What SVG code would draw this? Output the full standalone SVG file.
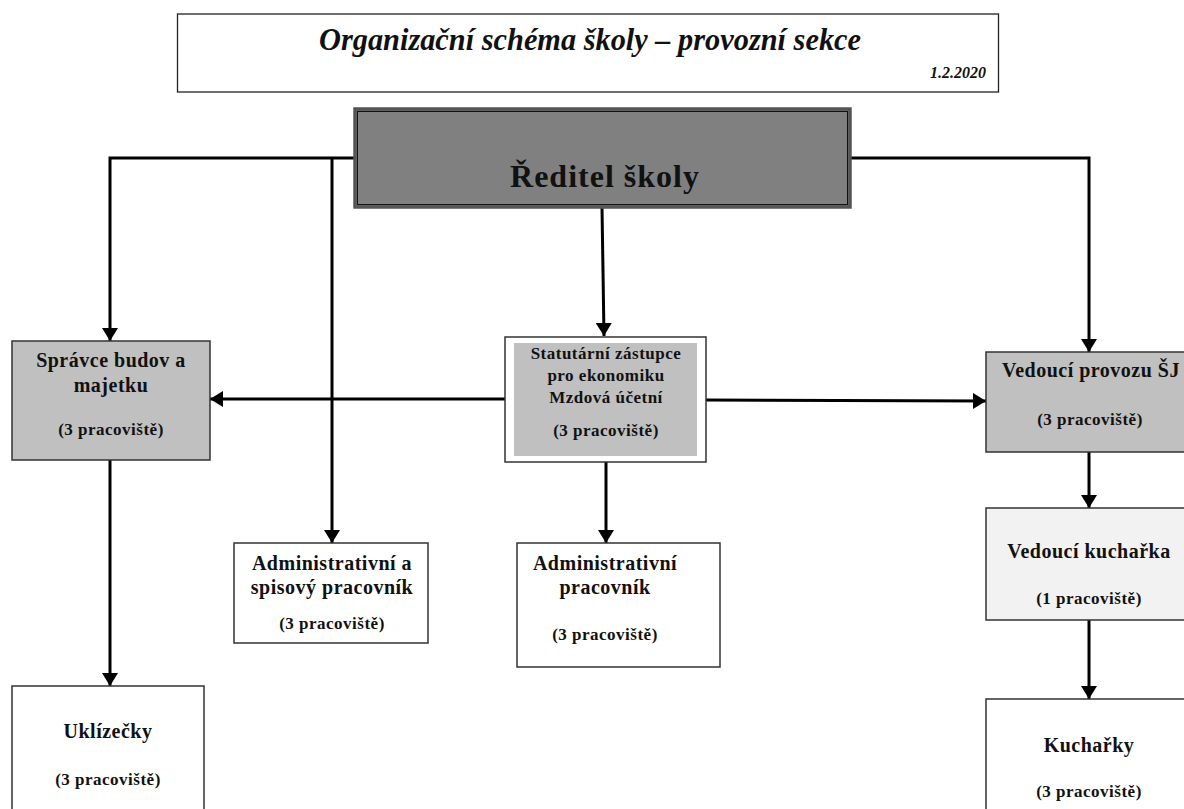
<svg xmlns="http://www.w3.org/2000/svg" width="1184" height="809" viewBox="0 0 1184 809">
<style>
text{font-family:"Liberation Serif","Times New Roman",serif;font-weight:bold;fill:#111;text-anchor:middle}
.t{font-size:20px;letter-spacing:0.5px}
.s{font-size:17px;letter-spacing:0.5px}
.box{stroke:#333;stroke-width:1.5}
.conn{stroke:#000;stroke-width:3;fill:none}
</style>
<defs>
<marker id="ah" markerUnits="userSpaceOnUse" markerWidth="14" markerHeight="16" refX="13" refY="8" orient="auto" viewBox="0 0 14 16">
<path d="M0,0 L13,8 L0,16 z" fill="#000"/>
</marker>
</defs>
<rect width="1184" height="809" fill="#fff"/>
<g id="title">
<rect x="177.5" y="14" width="821" height="78" fill="#fff" stroke="#222" stroke-width="1.3"/>
<text x="590" y="50" style="font-size:31px;font-style:italic" textLength="542" lengthAdjust="spacingAndGlyphs">Organizační schéma školy – provozní sekce</text>
<text x="986" y="78" style="font-size:16px;font-style:italic;text-anchor:end">1.2.2020</text>
</g>
<g id="connectors">
<polyline class="conn" points="354,158 110,158 110,341" marker-end="url(#ah)"/>
<polyline class="conn" points="332,158 332,543" marker-end="url(#ah)"/>
<polyline class="conn" points="851,158 1089,158 1089,352" marker-end="url(#ah)"/>
<line class="conn" x1="602" y1="207" x2="604" y2="336" marker-end="url(#ah)"/>
<line class="conn" x1="505" y1="399" x2="210" y2="399" marker-end="url(#ah)"/>
<line class="conn" x1="706" y1="400" x2="986" y2="401" marker-end="url(#ah)"/>
<line class="conn" x1="606" y1="462" x2="606" y2="543" marker-end="url(#ah)"/>
<line class="conn" x1="110" y1="460" x2="110" y2="686" marker-end="url(#ah)"/>
<line class="conn" x1="1089" y1="452" x2="1089" y2="508" marker-end="url(#ah)"/>
<line class="conn" x1="1089" y1="620" x2="1089" y2="699" marker-end="url(#ah)"/>
</g>
<g id="reditel">
<rect x="355" y="109" width="495" height="98" fill="#808080" stroke="#555" stroke-width="3.5"/>
<rect x="357.5" y="111.5" width="490" height="93" fill="none" stroke="#111" stroke-width="1"/>
<text x="605" y="187" style="font-size:32px;letter-spacing:1px">Ředitel školy</text>
</g>
<g id="spravce">
<rect class="box" x="12" y="341" width="198" height="119" fill="#c0c0c0"/>
<text class="t" x="111" y="367">Správce budov a</text>
<text class="t" x="111" y="392">majetku</text>
<text class="s" x="111" y="435">(3 pracoviště)</text>
</g>
<g id="statutarni">
<rect class="box" x="505" y="337" width="201" height="125" fill="#fff"/>
<rect x="514" y="343" width="183" height="113" fill="#c0c0c0"/>
<text class="s" x="606" y="359">Statutární zástupce</text>
<text class="s" x="606" y="381">pro ekonomiku</text>
<text class="s" x="606" y="403">Mzdová účetní</text>
<text class="s" x="606" y="436">(3 pracoviště)</text>
</g>
<g id="vedouci-provozu">
<rect class="box" x="986" y="352" width="210" height="100" fill="#c0c0c0"/>
<text class="t" x="1091" y="377">Vedoucí provozu ŠJ</text>
<text class="s" x="1090" y="425">(3 pracoviště)</text>
</g>
<g id="admin-spisovy">
<rect class="box" x="234" y="543" width="194" height="100" fill="#fff"/>
<text class="t" x="332" y="570">Administrativní a</text>
<text class="t" x="332" y="594">spisový pracovník</text>
<text class="s" x="332" y="629">(3 pracoviště)</text>
</g>
<g id="admin-pracovnik">
<rect class="box" x="517" y="543" width="203" height="124" fill="#fff"/>
<text class="t" x="605" y="570">Administrativní</text>
<text class="t" x="605" y="594">pracovník</text>
<text class="s" x="605" y="640">(3 pracoviště)</text>
</g>
<g id="vedouci-kucharka">
<rect class="box" x="986" y="508" width="210" height="112" fill="#f2f2f2"/>
<text class="t" x="1089" y="558">Vedoucí kuchařka</text>
<text class="s" x="1089" y="604">(1 pracoviště)</text>
</g>
<g id="uklizecky">
<rect class="box" x="12" y="686" width="192" height="140" fill="#fff"/>
<text class="t" x="108" y="738">Uklízečky</text>
<text class="s" x="108" y="785">(3 pracoviště)</text>
</g>
<g id="kucharky">
<rect class="box" x="986" y="699" width="210" height="130" fill="#fff"/>
<text class="t" x="1089" y="752">Kuchařky</text>
<text class="s" x="1089" y="797">(3 pracoviště)</text>
</g>
</svg>
